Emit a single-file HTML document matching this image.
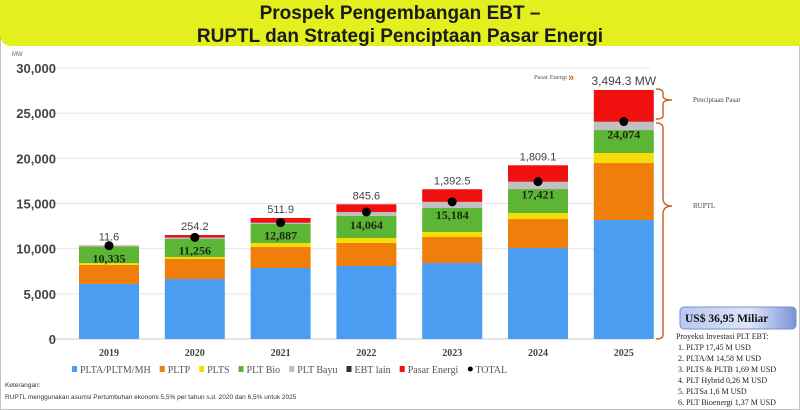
<!DOCTYPE html>
<html><head><meta charset="utf-8"><style>
body{margin:0;width:800px;height:410px;overflow:hidden;background:#fff;font-family:"Liberation Sans",sans-serif}
svg{display:block}
</style></head><body>
<svg id="c" width="800" height="410" xmlns="http://www.w3.org/2000/svg">
<rect x="0" y="0" width="800" height="410" fill="#fff" stroke="#888" stroke-width="1"/>
<path d="M0 0 H800 V46 H12 Q0 46 0 34 Z" fill="#e4ef1e"/>
<text x="400" y="19" text-anchor="middle" font-size="19" font-weight="bold" fill="#1a1a1a">Prospek Pengembangan EBT –</text>
<text x="400" y="42" text-anchor="middle" font-size="19" font-weight="bold" fill="#1a1a1a">RUPTL dan Strategi Penciptaan Pasar Energi</text>
<text x="12" y="56" font-size="6" fill="#666">MW</text>
<g id="grid"></g><g id="bars"></g><g id="labels"></g>
<text x="534" y="79" font-size="6.5" fill="#555" font-family="Liberation Serif,serif">Pasar Energi</text>
<text x="568" y="81" font-size="11" font-weight="bold" fill="#d0702a">»</text>
<path d="M656 89 Q663 89 663 93 V96 Q663 100 672 100 Q663 100 663 104 V116 Q663 119 656 119" fill="none" stroke="#c8692e" stroke-width="1.5"/>
<path d="M656 123 Q663 123 663 128 V198 Q663 206 672 206 Q663 206 663 214 V335 Q663 339 656 339" fill="none" stroke="#c8692e" stroke-width="1.5"/>
<text x="693" y="102" font-size="7" fill="#444" font-family="Liberation Serif,serif">Penciptaan Pasar</text>
<text x="693" y="208" font-size="7" fill="#444" font-family="Liberation Serif,serif">RUPTL</text>
<defs><linearGradient id="bx" x1="0" x2="1"><stop offset="0" stop-color="#b9c6ef"/><stop offset=".6" stop-color="#dfe6f8"/><stop offset="1" stop-color="#7d93d8"/></linearGradient></defs>
<rect x="680" y="307" width="116" height="22" rx="4" fill="url(#bx)" stroke="#7a8fd0"/>
<text x="685" y="322" font-size="11.5" font-weight="bold" fill="#111" font-family="Liberation Serif,serif">US$ 36,95 Miliar</text>
<g font-size="8" fill="#222" font-family="Liberation Serif,serif">
<text x="676" y="339">Proyeksi Investasi PLT EBT:</text>
<text x="678" y="350">1.   PLTP 17,45 M USD</text>
<text x="678" y="361">2.   PLTA/M 14,58 M USD</text>
<text x="678" y="372">3.   PLTS &amp; PLTB 1,69 M USD</text>
<text x="678" y="383">4.   PLT Hybrid 0,26 M USD</text>
<text x="678" y="394">5.   PLTSa 1,6 M USD</text>
<text x="678" y="405">6.   PLT Bioenergi 1,37 M USD</text>
</g>
<g id="legend"></g>
<text x="5" y="387" font-size="6.5" fill="#333">Keterangan:</text>
<text x="5" y="399" font-size="6.5" fill="#333">RUPTL menggunakan asumsi Pertumbuhan ekonomi 5,5% per tahun s.d. 2020 dan 6,5% untuk 2025</text>
</svg>
<script>
const years=["2019","2020","2021","2022","2023","2024","2025"];
const hydro=[6100,6640,7860,8080,8410,10070,13170];
const geo=[2100,2220,2320,2550,2880,3210,6310];
const solar=[200,220,450,550,555,670,1110];
const bio=[1850,1990,2100,2440,2655,2650,2540];
const wind=[70,150,140,430,670,806,924];
const other=[15,36,17,14,14,15,20];
const market=[11.6,254.2,511.9,845.6,1392.5,1809.1,3494.3];
const totals=[10335,11256,12887,14064,15184,17421,24074];
const marketLabels=["11.6","254.2","511.9","845.6","1,392.5","1,809.1","3,494.3 MW"];
const totalLabels=["10,335","11,256","12,887","14,064","15,184","17,421","24,074"];
const yTicks=[0,5000,10000,15000,20000,25000,30000];
const yTickLabels=["0","5,000","10,000","15,000","20,000","25,000","30,000"];
const seriesNames=["PLTA/PLTM/MH","PLTP","PLTS","PLT Bio","PLT Bayu","EBT lain","Pasar Energi","TOTAL"];
const colors=["#4a9df0","#ef7f0a","#f6dd0a","#5cb535","#c0c0c0","#3a2a2a","#f01010","#000"];
const NS="http://www.w3.org/2000/svg";
const y0=339,yTop=68,vMax=30000;
const y=v=>y0-(v/vMax)*(y0-yTop);
const x=i=>109+i*85.8;
const bw=60;
function mk(t,a,p){const e=document.createElementNS(NS,t);for(const k in a)e.setAttribute(k,a[k]);p.appendChild(e);return e;}
const grid=document.getElementById('grid');
yTicks.forEach((t,i)=>{
 const l=mk('line',{x1:48,x2:650,y1:y(t),y2:y(t),stroke:i?'#e4e4e4':'#ccc','stroke-width':1},grid);
 
 
 const tx=mk('text',{x:56,y:y(t)+5,'text-anchor':'end','font-size':13,'font-weight':'bold',fill:'#444'},grid);
 tx.textContent=yTickLabels[i];
 
 
});
const bars=document.getElementById('bars'),labels=document.getElementById('labels');
const series=[hydro,geo,solar,bio,wind,other,market];
years.forEach((yr,i)=>{
 let acc=0;
 series.forEach((s,k)=>{
  const r=mk('rect',{x:x(i)-bw/2,y:y(acc+s[i]),width:bw,height:y(acc)-y(acc+s[i]),fill:colors[k]},bars);
  
  
  acc+=s[i];
 });
 const d=mk('circle',{cx:x(i),cy:y(totals[i]),r:4.5,fill:'#000'},labels);
 
 
 const tl=mk('text',{x:x(i),y:y(totals[i])+17,'text-anchor':'middle','font-size':12,'font-weight':'bold',fill:'#1a2a10','font-family':'Liberation Serif,serif'},labels);
 tl.textContent=totalLabels[i];
 
 
 const ml=mk('text',{x:x(i),y:y(acc)-5,'text-anchor':'middle','font-size':i==6?12:11,fill:'#444'},labels);
 ml.textContent=marketLabels[i];
 
 
 const xl=mk('text',{x:x(i),y:356,'text-anchor':'middle','font-size':10,'font-weight':'bold',fill:'#444','font-family':'Liberation Serif,serif'},labels);
 xl.textContent=yr;
 
 
});
const lg=document.getElementById('legend');
let lx=72;
seriesNames.forEach((n,k)=>{
 const g=mk('g',{},lg);
 
 
 if(k==7)mk('circle',{cx:lx+3,cy:369,r:2.5,fill:'#000'},g);
 else mk('rect',{x:lx,y:366,width:5,height:6,fill:colors[k]},g);
 const t=mk('text',{x:lx+8,y:373,'font-size':10,fill:'#555','font-family':'Liberation Serif,serif'},g);
 t.textContent=n;
 lx+=8+t.getComputedTextLength()+9;
});
</script>
</body></html>
